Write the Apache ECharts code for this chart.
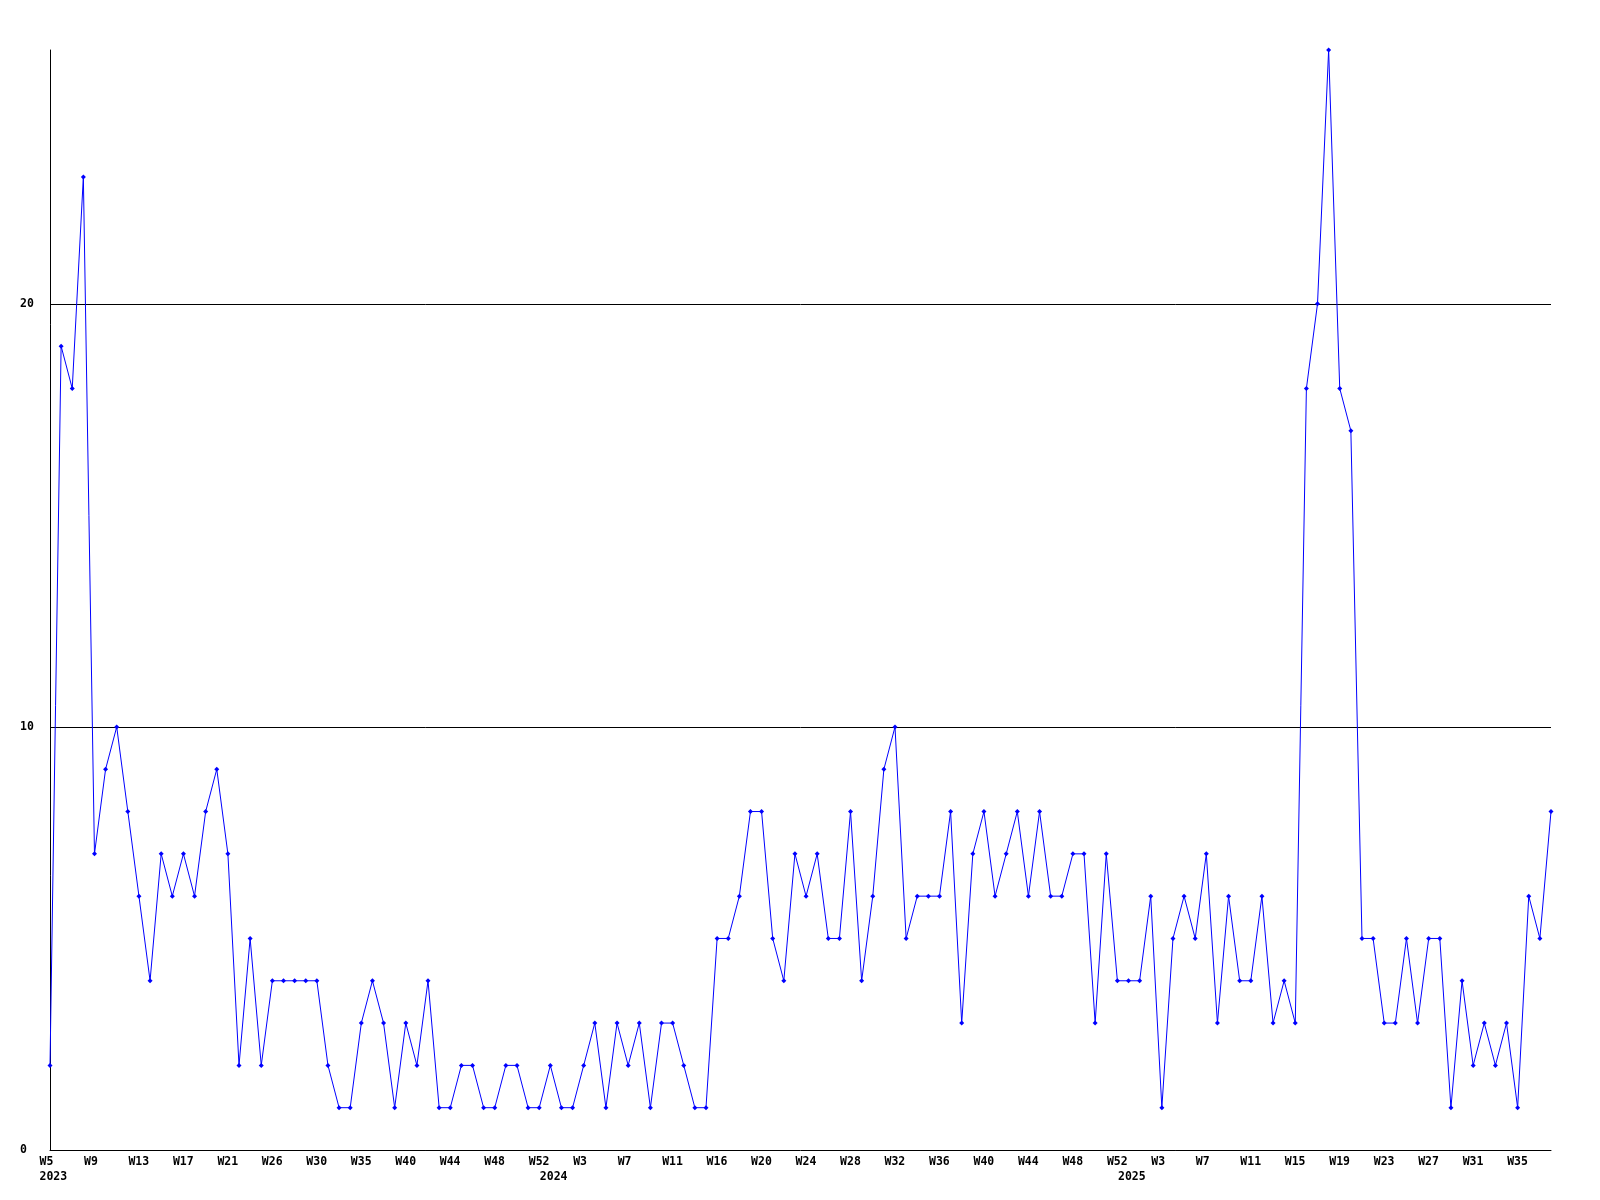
<!DOCTYPE html>
<html>
<head>
<meta charset="utf-8">
<script src="https://cdn.jsdelivr.net/npm/echarts@6/dist/echarts.min.js"></script>
<style>
  html, body { margin: 0; padding: 0; background: #ffffff; }
  #chart { width: 1600px; height: 1200px; }
</style>
</head>
<body>
<div id="chart"></div>
<script>
// Weekly values, W5 2023 .. ~W38 2025 (one value per point)
const values = [
  2, 19, 18, 23, 7, 9, 10, 8, 6, 4, 7, 6, 7, 6, 8, 9, 7, 2, 5, 2, 4, 4, 4, 4, 4, 2, 1, 1, 3, 4, 3, 1, 3, 2, 4,
  1, 1, 2, 2, 1, 1, 2, 2, 1, 1, 2, 1, 1, 2, 3, 1, 3, 2, 3, 1, 3, 3, 2, 1, 1, 5, 5, 6, 8, 8, 5, 4,
  7, 6, 7, 5, 5, 8, 4, 6, 9, 10, 5, 6, 6, 6, 8, 3, 7, 8, 6, 7, 8, 6, 8, 6, 6, 7, 7, 3, 7, 4, 4, 4, 6, 1, 5,
  6, 5, 7, 3, 6, 4, 4, 6, 3, 4, 3, 18, 20, 26, 18, 17, 5, 5, 3, 3, 5, 3, 5, 5, 1, 4, 2, 3, 2, 3, 1, 6, 5, 8
];
// Week tick labels, one for every 4th point
const tickLabels = [
  'W5', 'W9', 'W13', 'W17', 'W21', 'W26', 'W30', 'W35', 'W40', 'W44', 'W48', 'W52',
  'W3', 'W7', 'W11', 'W16', 'W20', 'W24', 'W28', 'W32', 'W36', 'W40', 'W44', 'W48', 'W52',
  'W3', 'W7', 'W11', 'W15', 'W19', 'W23', 'W27', 'W31', 'W35'
];
const tickStep = 4;
// Year labels and the point index where each year starts
const yearLabels = ['2023', '2024', '2025'];
const yearStartIdx = [0, 45, 97];

const categories = values.map((v, i) => String(i));

const FONT = 'DejaVu Sans Mono';
const labelRich = {
  a: { width: 21, align: 'left', fontFamily: FONT, fontWeight: 'bold', fontSize: 11.5, color: '#000' }
};

const chart = echarts.init(document.getElementById('chart'), null, { renderer: 'canvas' });
chart.setOption({
  animation: false,
  backgroundColor: '#ffffff',
  grid: { left: 50, right: 49, top: 50, bottom: 50, containLabel: false },
  xAxis: [
    {
      type: 'category',
      data: categories,
      boundaryGap: false,
      axisLine: { show: true, lineStyle: { color: '#000', width: 1 } },
      axisTick: { show: false },
      splitLine: { show: false },
      axisLabel: {
        interval: (idx) => idx % tickStep === 0 && idx / tickStep < tickLabels.length,
        formatter: (val, idx) => {
          const k = idx / tickStep;
          return (idx % tickStep === 0 && k < tickLabels.length) ? '{a|' + tickLabels[k] + '}' : '';
        },
        rich: labelRich,
        margin: 6,
        align: 'center',
        hideOverlap: false
      }
    },
    {
      type: 'category',
      data: categories,
      position: 'bottom',
      boundaryGap: false,
      axisLine: { show: false },
      axisTick: { show: false },
      splitLine: { show: false },
      axisLabel: {
        interval: (idx) => yearStartIdx.indexOf(idx) >= 0,
        formatter: (val, idx) => {
          const k = yearStartIdx.indexOf(idx);
          return k >= 0 ? '{a|' + yearLabels[k] + '}' : '';
        },
        rich: labelRich,
        margin: 21,
        align: 'center',
        hideOverlap: false
      }
    }
  ],
  yAxis: {
    type: 'value',
    min: 0,
    max: 26,
    interval: 10,
    axisLine: { show: true, lineStyle: { color: '#000', width: 1 } },
    axisTick: { show: false },
    splitLine: { show: true, showMinLine: false, showMaxLine: false, lineStyle: { color: '#000', width: 1 } },
    axisLabel: {
      showMaxLabel: false,
      align: 'left',
      margin: 30,
      fontFamily: FONT,
      fontWeight: 'bold',
      fontSize: 11.5,
      color: '#000'
    }
  },
  series: [
    {
      type: 'line',
      xAxisIndex: 0,
      data: values,
      symbol: 'diamond',
      symbolSize: 5,
      showAllSymbol: true,
      lineStyle: { color: '#0000ff', width: 1 },
      itemStyle: { color: '#0000ff' },
      emphasis: { disabled: true }
    }
  ]
});
</script>
</body>
</html>
